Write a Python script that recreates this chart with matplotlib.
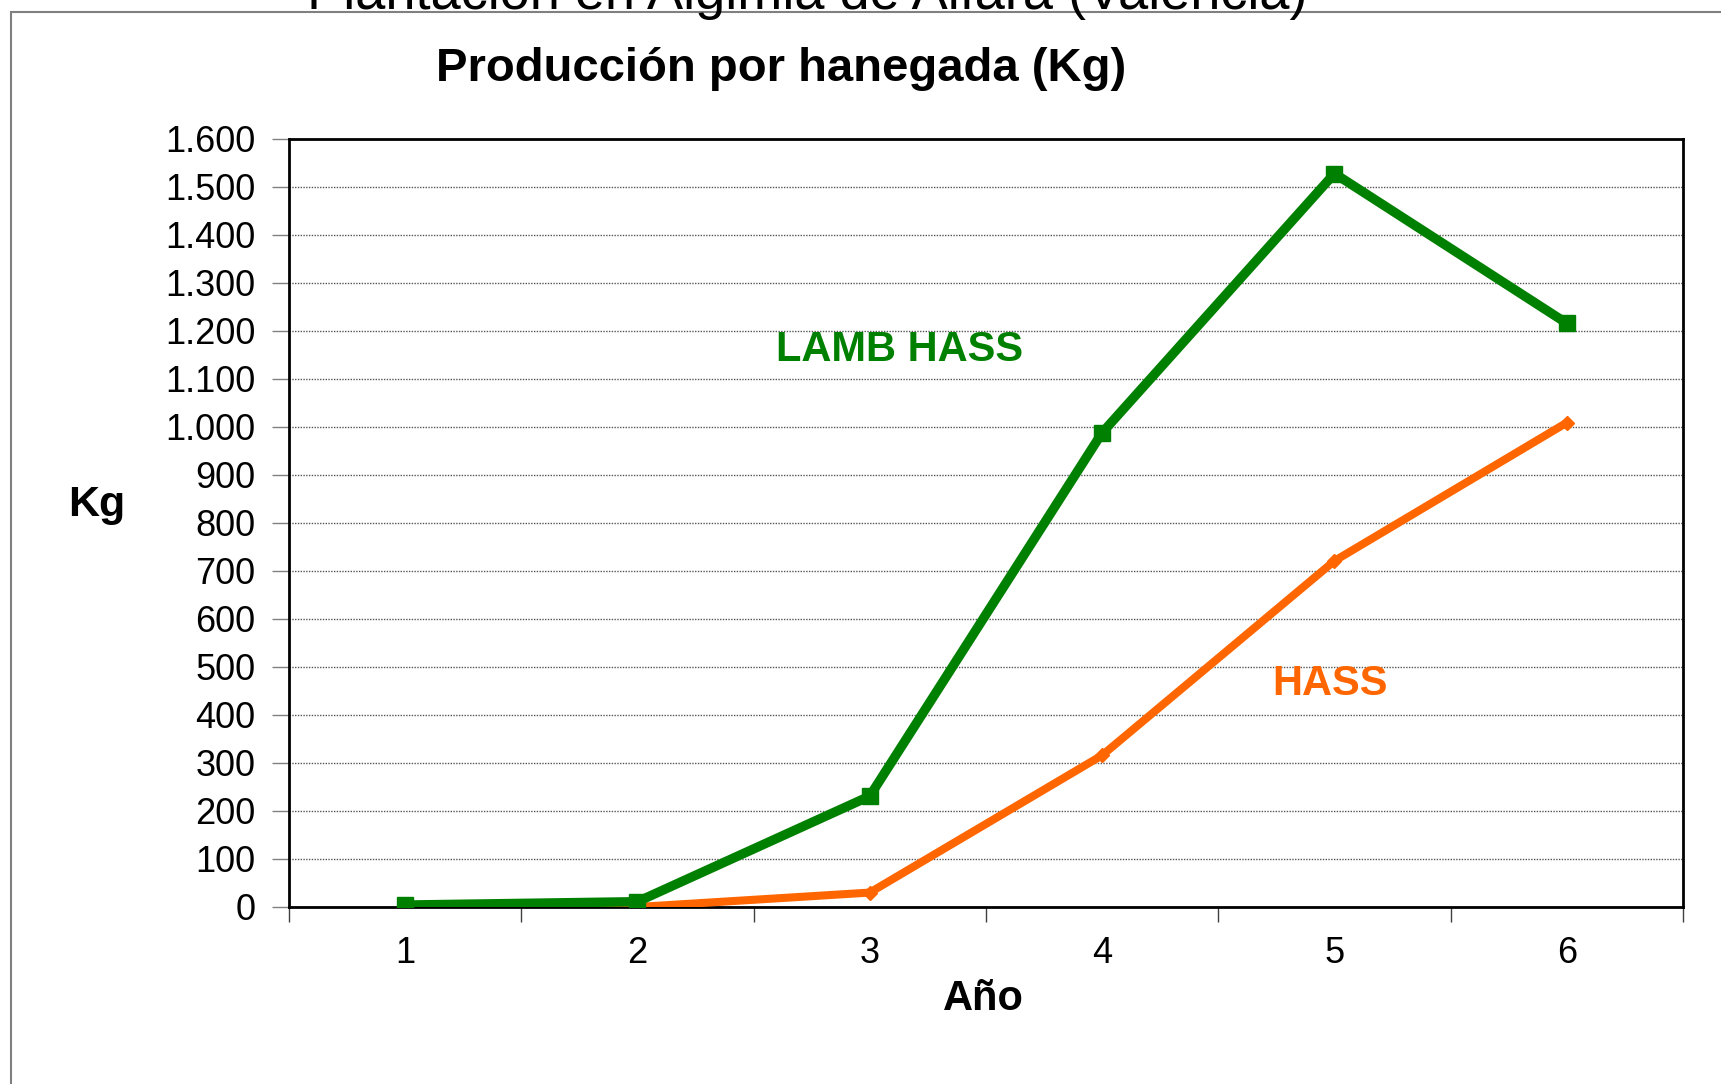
import matplotlib
matplotlib.use("Agg")
import matplotlib.pyplot as plt
from matplotlib.patches import Rectangle

plt.rcParams['font.family'] = ['Liberation Sans', 'DejaVu Sans']

# data
anios = [1, 2, 3, 4, 5, 6]
lamb_hass = [4, 11, 231, 988, 1528, 1216]
hass = [0, 0, 30, 316, 721, 1009]
y_ticks = list(range(0, 1700, 100))
y_labels = ['{:,}'.format(v).replace(',', '.') for v in y_ticks]

fig = plt.figure(figsize=(17.21, 10.84), dpi=100)
ax = fig.add_axes([0.1679, 0.1633, 0.81, 0.7085])

# frame around the slide area
fig.patches.append(Rectangle((11 / 1721, -0.05), 1.1, 1 - 12 / 1084 + 0.05,
                             transform=fig.transFigure, fill=False,
                             edgecolor='#808080', linewidth=1.5))

ax.plot(anios, hass, color='#FF6600', linewidth=5.8, marker='D', markersize=7,
        zorder=3, solid_capstyle='butt')
ax.plot(anios, lamb_hass, color='#008000', linewidth=6.8, marker='s', markersize=11,
        zorder=4, solid_capstyle='butt')

ax.set_xlim(0.5, 6.5)
ax.set_ylim(0, 1600)
ax.set_yticks(y_ticks)
ax.set_yticklabels(y_labels)
ax.set_xticks(anios)
ax.set_xticks([x + 0.5 for x in range(0, 7)], minor=True)
ax.tick_params(axis='x', which='major', length=0, labelsize=26, pad=21)
ax.tick_params(axis='x', which='minor', length=11, width=1, direction='out', color='#404040')
ax.tick_params(axis='y', length=12, width=1, color='#808080', labelsize=26, pad=12)

ax.grid(axis='y', linestyle=(0, (1, 1)), color='#555555', linewidth=1)
ax.set_axisbelow(True)
for s in ax.spines.values():
    s.set_linewidth(2)
    s.set_color('black')

ax.text(3.13, 1160, 'LAMB HASS', color='#008000', fontsize=30, fontweight='bold',
        ha='center', va='center')
ax.text(4.98, 465, 'HASS', color='#FF6600', fontsize=30, fontweight='bold',
        ha='center', va='center')

fig.text(97 / 1721, 1 - 505 / 1084, 'Kg', fontsize=31, fontweight='bold',
         ha='center', va='center')
fig.text(983 / 1721, 1 - 999 / 1084, 'Año', fontsize=30, fontweight='bold',
         ha='center', va='center')
fig.text(781 / 1721, 1 - 69 / 1084, 'Producción por hanegada (Kg)', fontsize=34,
         fontweight='bold', ha='center', va='center')
fig.text(807 / 1721, 1 - 9 / 1084, 'Plantación en Algimia de Alfara (Valencia)',
         fontsize=39, ha='center', va='baseline')

fig.savefig('out.png', dpi=100)
